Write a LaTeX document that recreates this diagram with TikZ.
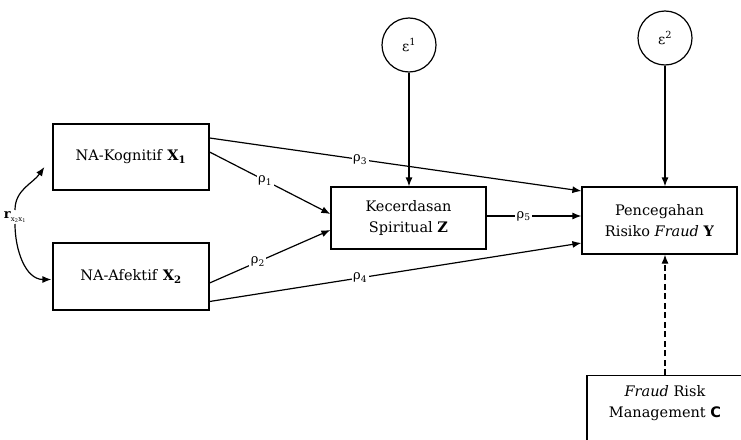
\documentclass[tikz,border=0pt]{standalone}
\usepackage{fontspec}
\setmainfont{DejaVu Serif}
\setsansfont{DejaVu Sans}
\usetikzlibrary{arrows.meta}
\begin{document}
\begin{tikzpicture}[x=1pt,y=-1pt,
  box/.style={draw,line width=1.2pt,align=center,inner sep=2pt,font=\fontsize{14.5}{21}\selectfont},
  err/.style={draw,circle,line width=1.2pt,minimum size=54pt,inner sep=0pt,font=\fontsize{14}{16}\selectfont},
  path/.style={line width=1.2pt,-{Latex[length=9pt,width=7pt]}},
  lbl/.style={fill=white,inner sep=1.5pt,font=\fontsize{13}{15}\selectfont}]
\useasboundingbox (0,0) rectangle (741,439);
\clip (0,0) rectangle (741,439);
\node[box,minimum width=156pt,minimum height=66pt] (X1) at (131,157) {NA-Kognitif \textbf{X\textsubscript{1}}};
\node[box,minimum width=156pt,minimum height=67pt] (X2) at (131,276.5) {NA-Afektif \textbf{X\textsubscript{2}}};
\node[box,minimum width=155pt,minimum height=62pt] (Z) at (408.5,218) {Kecerdasan\\Spiritual \textbf{Z}};
\node[box,minimum width=155pt,minimum height=67pt] (Y) at (659.5,220.5) {Pencegahan\\Risiko \textit{Fraud} \textbf{Y}};
\node[err] (E1) at (409,45) {ε\textsuperscript{1}};
\node[err] (E2) at (665,38) {ε\textsuperscript{2}};
\node[box,minimum width=156pt,minimum height=70pt,anchor=north] (C) at (665,375) {};
\node[font=\fontsize{14.5}{21}\selectfont,align=center] (Ct) at (665,403) {\textit{Fraud} Risk\\Management \textbf{\sffamily C}};
% paths
\draw[path] ([yshift=19pt]X1.east) -- node[lbl,pos=0.405] (r3) {ρ\textsubscript{3}} ([yshift=29.5pt]Y.west);
\draw[path] ([yshift=5pt]X1.east) -- node[lbl,pos=0.46] (r1) {ρ\textsubscript{1}} ([yshift=4pt]Z.west);
\draw[path] ([yshift=-6.5pt]X2.east) -- node[lbl,pos=0.4] (r2) {ρ\textsubscript{2}} ([yshift=-12pt]Z.west);
\draw[path] ([yshift=-25pt]X2.east) -- node[lbl,pos=0.405] (r4) {ρ\textsubscript{4}} ([yshift=-22.5pt]Y.west);
\draw[path] ([yshift=2pt]Z.east) -- node[lbl,pos=0.39] (r5) {ρ\textsubscript{5}} ([yshift=2pt]Y.west |- Z.east);
\draw[path] (E1.south) -- (E1.south |- Z.north);
\draw[path] (E2.south) -- (E2.south |- Y.north);
\draw[path,dash pattern=on 6pt off 3.5pt] (C.north) -- (C.north |- Y.south);
% correlation
\node[font=\fontsize{13}{15}\selectfont,inner sep=1pt] (rx) at (15,217) {\textbf{r}\raisebox{-0.5ex}{\fontsize{7}{8}\selectfont x\textsubscript{2}x\textsubscript{1}}};
\coordinate (a) at ([xshift=-8pt,yshift=-10pt]X1.west);
\coordinate (b) at ([xshift=-1pt,yshift=-3pt]X2.west);
\draw[path] (rx.north) to[out=90,in=-125] (a);
\draw[path] (rx.south) to[out=-90,in=180] (b);
\end{tikzpicture}
\end{document}
